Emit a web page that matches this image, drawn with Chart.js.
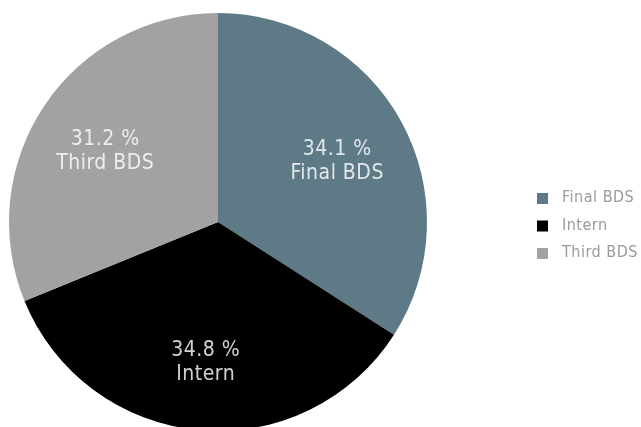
<!DOCTYPE html>
<html>
<head>
<meta charset="utf-8">
<script src="https://cdn.jsdelivr.net/npm/chart.js@4"></script>
<style>
  html, body { margin: 0; padding: 0; background: #fff; overflow: hidden; }
  #wrap { width: 641px; height: 427px; overflow: hidden; }
</style>
</head>
<body>
<div id="wrap"><canvas id="myChart" width="641" height="441"></canvas></div>
<script>
const categories = ["Final BDS", "Intern", "Third BDS"];
const shares = [34.1, 34.8, 31.2];
const colors = ["#5e7a87", "#000000", "#a2a2a2"];

const FONT = '"DejaVu Sans Condensed", "Liberation Sans Narrow", sans-serif';

// percent + name written inside each slice
const sliceLabels = {
  id: "sliceLabels",
  afterDatasetsDraw(chart) {
    const ctx = chart.ctx;
    const meta = chart.getDatasetMeta(0);
    ctx.save();
    ctx.fillStyle = "rgba(255,255,255,0.82)";
    ctx.textAlign = "center";
    ctx.textBaseline = "middle";
    ctx.font = "21px " + FONT;
    ctx.letterSpacing = "0.5px";
    meta.data.forEach((arc, i) => {
      const p = arc.getProps(["x", "y", "startAngle", "endAngle", "outerRadius"], true);
      const mid = (p.startAngle + p.endAngle) / 2;
      const r = p.outerRadius * 0.65;
      const x = p.x + Math.cos(mid) * r;
      const y = p.y + Math.sin(mid) * r;
      ctx.fillText(shares[i].toFixed(1) + " %", x, y - 7);
      ctx.fillText(categories[i], x, y + 17);
    });
    ctx.restore();
  }
};

// legend on the right, drawn by hand so it can sit where the original has it
const sideLegend = {
  id: "sideLegend",
  afterDraw(chart) {
    const ctx = chart.ctx;
    ctx.save();
    ctx.font = "16px " + FONT;
    ctx.letterSpacing = "0.5px";
    ctx.textBaseline = "middle";
    categories.forEach((name, i) => {
      const y = 198 + i * 27.5;
      ctx.fillStyle = colors[i];
      ctx.fillRect(537, y - 5, 11, 11);
      ctx.fillStyle = "#9a9a9a";
      ctx.fillText(name, 562, y);
    });
    ctx.restore();
  }
};

new Chart(document.getElementById("myChart").getContext("2d"), {
  type: "pie",
  data: {
    labels: categories,
    datasets: [
      {
        data: shares,
        backgroundColor: colors,
        borderWidth: 0
      }
    ]
  },
  options: {
    responsive: false,
    animation: false,
    layout: {
      padding: { left: 0, right: 205, top: 13, bottom: 10 }
    },
    plugins: {
      legend: { display: false },
      tooltip: { enabled: false }
    }
  },
  plugins: [sliceLabels, sideLegend]
});
</script>
</body>
</html>
